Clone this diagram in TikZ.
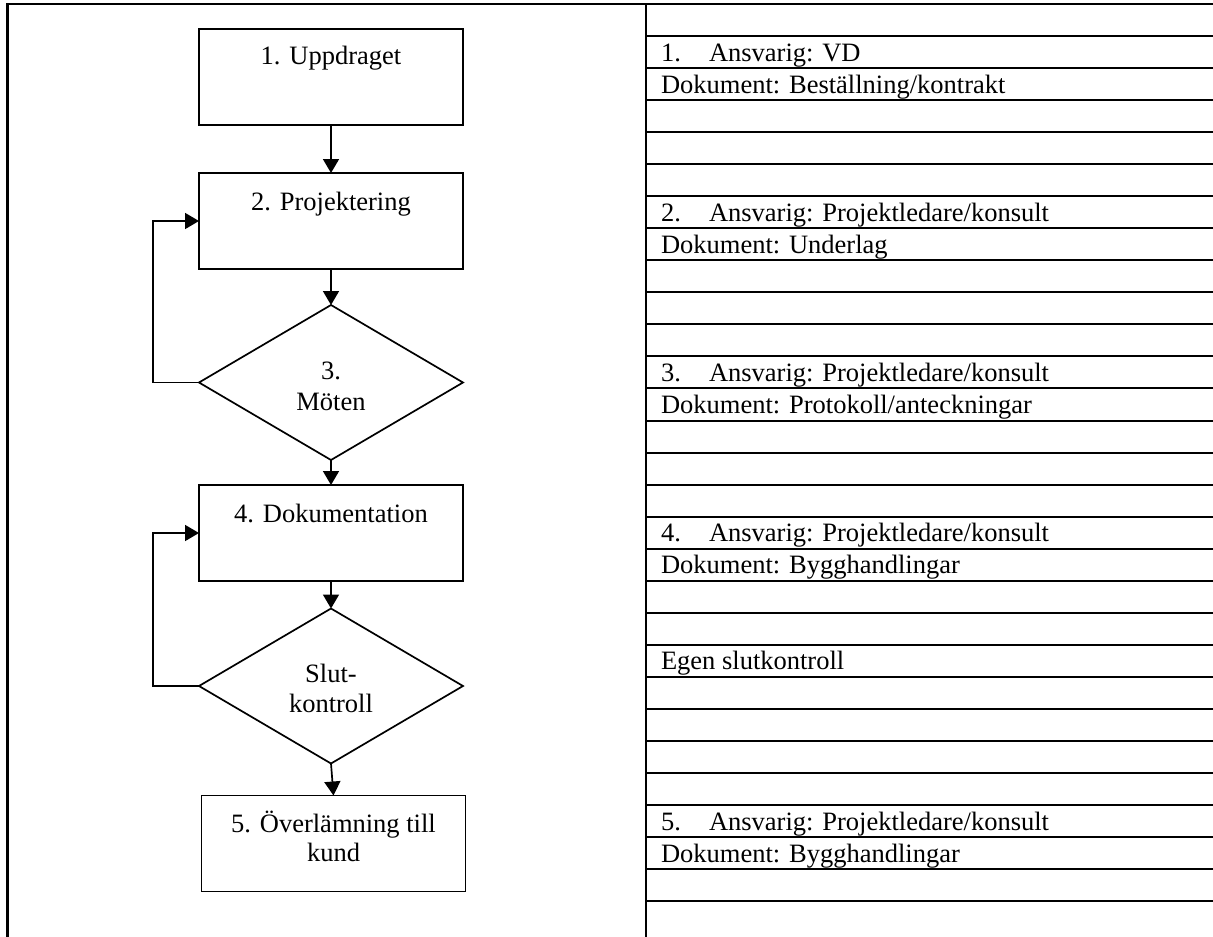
\documentclass[tikz,border=0pt]{standalone}
\usepackage{fontspec}
\setmainfont{Liberation Serif}
\usetikzlibrary{arrows.meta,shapes.geometric}
\begin{document}
\begin{tikzpicture}[x=1pt,y=-1pt,
  txt/.style={font=\fontsize{26.5}{30}\selectfont, inner sep=0pt, outer sep=0pt},
  stepbox/.style={draw, line width=1.7pt, minimum width=264pt, minimum height=96pt, inner sep=0pt, outer sep=0pt},
  decision/.style={draw, diamond, line width=1.7pt, minimum width=264pt, minimum height=155pt, inner sep=0pt, outer sep=0pt},
  arr/.style={line width=1.7pt, -{Triangle[width=16pt,length=14pt]}},
  border/.style={line width=2.3pt},
  rowline/.style={line width=2pt}]
\useasboundingbox (0,0) rectangle (1213,937);
% frame
\draw[border] (7.5,937) -- (7.5,4) -- (1213,4);
\draw[rowline] (646,4) -- (646,937);
\foreach \k in {1,...,28} \draw[rowline] (646,{4+32.04*\k}) -- (1213,{4+32.04*\k});
% flowchart nodes
\node[stepbox] (b1) at (331,77) {};
\node[stepbox] (b2) at (331,221) {};
\node[decision] (d3) at (331,382.5) {};
\node[stepbox] (b4) at (331,533) {};
\node[decision] (d5) at (331,686) {};
\node[stepbox] (b6) at (333.5,843.5) {};
\node[txt, anchor=base] (t1) at (331,64) {1. Uppdraget};
\node[txt, anchor=base] (t2) at (331,210) {2. Projektering};
\node[txt, anchor=base] (t3a) at (331,379) {3.};
\node[txt, anchor=base] (t3b) at (331,410) {Möten};
\node[txt, anchor=base] (t4) at (331,522) {4. Dokumentation};
\node[txt, anchor=base] (t5a) at (331,682) {Slut-};
\node[txt, anchor=base] (t5b) at (331,712) {kontroll};
\node[txt, anchor=base] (t6a) at (333.5,832) {5. Överlämning till};
\node[txt, anchor=base] (t6b) at (333.5,861) {kund};
% connectors
\draw[arr] (b1.south) -- (b2.north);
\draw[arr] (b2.south) -- (d3.north);
\draw[arr] (d3.south) -- (b4.north);
\draw[arr] (b4.south) -- (d5.north);
\draw[arr] (d5.south) -- (b6.north);
\draw[arr] (d3.west) -- ++(-46,0) |- (b2.west);
\draw[arr] (d5.west) -- ++(-46,0) |- (b4.west);
% table text
\node[txt, anchor=base west] (n1) at (661,61.1) {1.};
\node[txt, anchor=base west] (a1) at (709,61.1) {Ansvarig: VD};
\node[txt, anchor=base west] (k1) at (661,93.1) {Dokument: Beställning/kontrakt};
\node[txt, anchor=base west] (n2) at (661,221.3) {2.};
\node[txt, anchor=base west] (a2) at (709,221.3) {Ansvarig: Projektledare/konsult};
\node[txt, anchor=base west] (k2) at (661,253.3) {Dokument: Underlag};
\node[txt, anchor=base west] (n3) at (661,381.5) {3.};
\node[txt, anchor=base west] (a3) at (709,381.5) {Ansvarig: Projektledare/konsult};
\node[txt, anchor=base west] (k3) at (661,413.5) {Dokument: Protokoll/anteckningar};
\node[txt, anchor=base west] (n4) at (661,541.7) {4.};
\node[txt, anchor=base west] (a4) at (709,541.7) {Ansvarig: Projektledare/konsult};
\node[txt, anchor=base west] (k4) at (661,573.7) {Dokument: Bygghandlingar};
\node[txt, anchor=base west] (e1) at (661,669.8) {Egen slutkontroll};
\node[txt, anchor=base west] (n5) at (661,830) {5.};
\node[txt, anchor=base west] (a5) at (709,830) {Ansvarig: Projektledare/konsult};
\node[txt, anchor=base west] (k5) at (661,862) {Dokument: Bygghandlingar};
\end{tikzpicture}
\end{document}
